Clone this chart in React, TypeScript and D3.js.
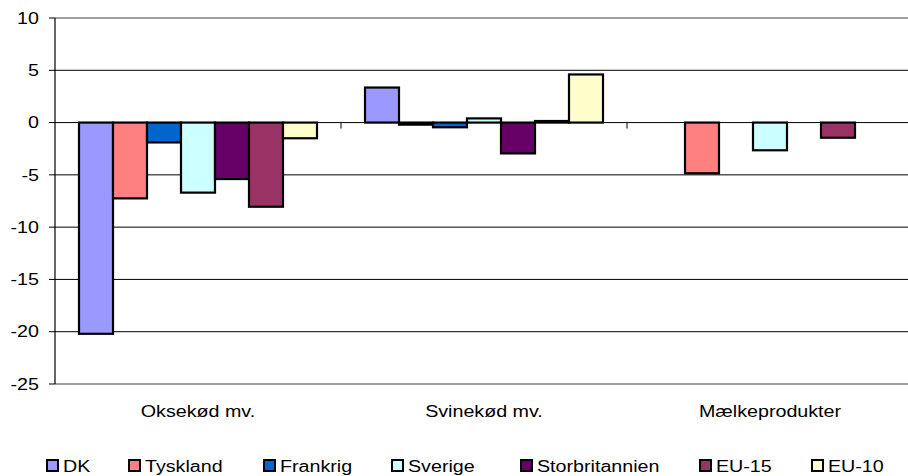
import React from "react";
import * as d3 from "d3";

const categories = ["Oksekød mv.", "Svinekød mv.", "Mælkeprodukter"];
const seriesNames = ["DK", "Tyskland", "Frankrig", "Sverige", "Storbritannien", "EU-15", "EU-10"];
const seriesColors = ["#9999FF", "#FF8080", "#0066CC", "#CCFFFF", "#660066", "#993366", "#FFFFCC"];
const dk = [-20.2, 3.35, null];
const tyskland = [-7.25, -0.2, -4.85];
const frankrig = [-1.9, -0.45, null];
const sverige = [-6.7, 0.4, -2.65];
const storbritannien = [-5.4, -2.95, null];
const eu15 = [-8.05, 0.15, -1.45];
const eu10 = [-1.5, 4.6, null];
const seriesValues = [dk, tyskland, frankrig, sverige, storbritannien, eu15, eu10];
const yTicks = [10, 5, 0, -5, -10, -15, -20, -25];

const SX = 1.23;

function T(props: { x: number; y: number; anchor?: string; size?: number; children: React.ReactNode; dy?: string }) {
  return (
    <text transform={`translate(${props.x},${props.y}) scale(${SX},1)`} dy={props.dy}
      textAnchor={props.anchor || "start"} fontSize={props.size || 16} fill="#000">
      {props.children}
    </text>
  );
}

export default function App() {
  const W = 908, H = 476;
  const left = 55, top = 18, bottom = 384, right = 913;
  const y = d3.scaleLinear().domain([-25, 10]).range([bottom, top]);
  const x0 = d3.scaleBand<string>().domain(categories).range([left, right]).paddingInner(0).paddingOuter(0);
  const x1 = d3.scaleBand<string>().domain(seriesNames).range([0, x0.bandwidth()]).paddingInner(0).paddingOuter(0.706);
  const font = "'Liberation Sans', Arial, sans-serif";
  const legendX = [46, 128, 263, 391, 520, 699, 811];

  return (
    <svg width={W} height={H} style={{ position: "absolute", left: 0, top: 0, background: "#fff" }} fontFamily={font}>
      {yTicks.map((t) => (
        <line key={"g" + t} x1={left} x2={W} y1={y(t)} y2={y(t)}
          stroke={t === 10 || t === -25 ? "#808080" : "#000"} strokeWidth={t === 10 || t === -25 ? 1.5 : 1} />
      ))}
      <line x1={left} x2={left} y1={top} y2={bottom} stroke="#000" strokeWidth={1.2} />
      {yTicks.map((t) => (
        <g key={"t" + t}>
          <line x1={left - 6} x2={left} y1={y(t)} y2={y(t)} stroke="#000" />
          <T x={39} y={y(t)} dy="0.36em" anchor="end">{t}</T>
        </g>
      ))}
      {categories.map((c, ci) => (
        <g key={c}>
          {seriesNames.map((s, si) => {
            const v = seriesValues[si][ci];
            if (v === null || v === undefined) return null;
            const bx = (x0(c) as number) + (x1(s) as number);
            const y0 = y(0), yv = y(v);
            return (
              <rect key={s} x={bx} y={Math.min(y0, yv)} width={x1.bandwidth()} height={Math.max(Math.abs(yv - y0), 0.5)}
                fill={seriesColors[si]} stroke="#000" strokeWidth={2.2} />
            );
          })}
        </g>
      ))}
      {categories.map((c, ci) => ci > 0 ? (
        <line key={"ct" + c} x1={x0(c) as number} x2={x0(c) as number} y1={y(0)} y2={y(0) + 6} stroke="#000" />
      ) : null)}
      {categories.map((c) => (
        <T key={"cl" + c} x={(x0(c) as number) + x0.bandwidth() / 2} y={417} anchor="middle">{c}</T>
      ))}
      {seriesNames.map((s, si) => (
        <g key={"l" + s}>
          <rect x={legendX[si] + 1} y={460} width={11} height={11} fill={seriesColors[si]} stroke="#000" strokeWidth={2} />
          <T x={legendX[si] + 17} y={472}>{s}</T>
        </g>
      ))}
    </svg>
  );
}
